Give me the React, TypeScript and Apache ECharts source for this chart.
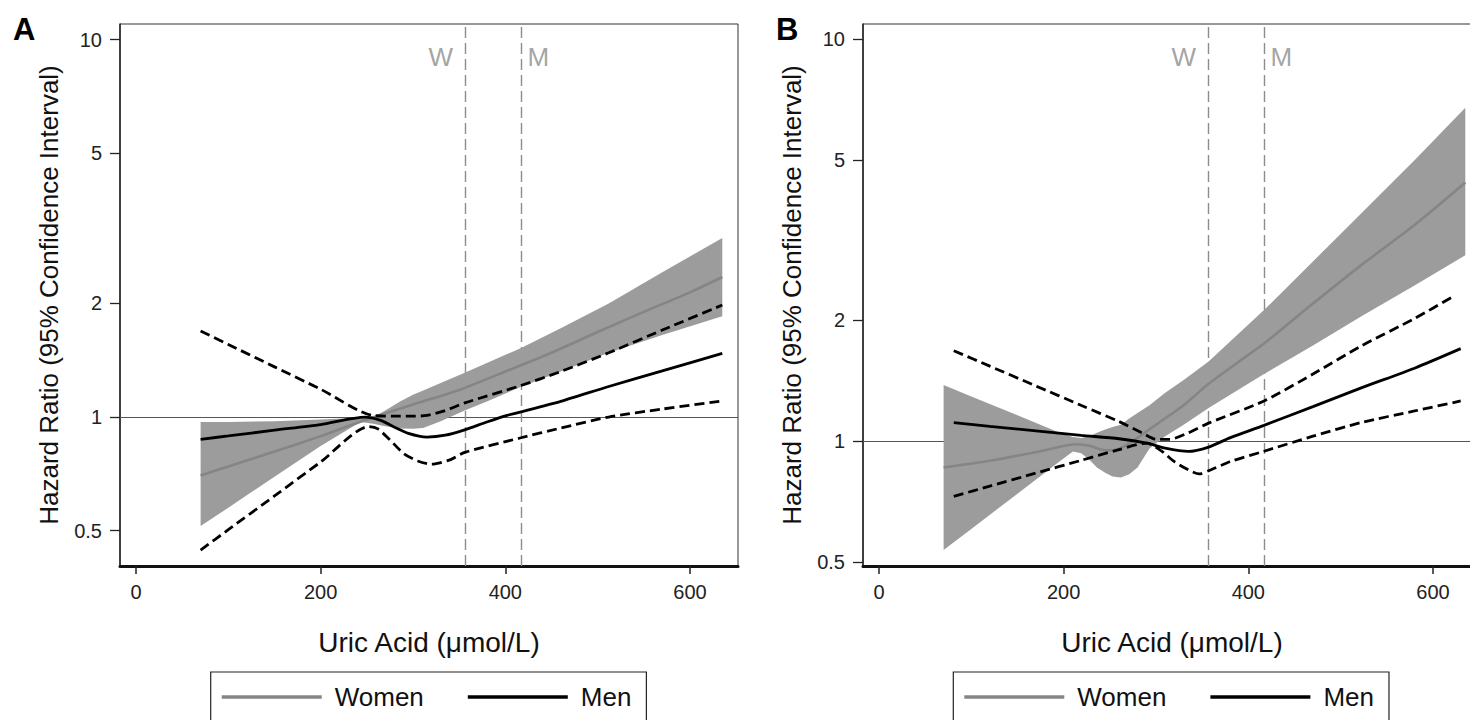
import React, { useEffect, useRef } from "react";
import * as echarts from "echarts";

const FONT = '"Liberation Sans", Arial, Helvetica, sans-serif';

const xTicks = [0, 200, 400, 600];
const yTicks = [0.5, 1, 2, 5, 10];
const cutoffWomen = 357;
const cutoffMen = 417;
const legendNames = ["Women", "Men"];
const xTitle = "Uric Acid (\u03bcmol/L)";
const yTitle = "Hazard Ratio (95% Confidence Interval)";

// ---------- Panel A ----------
const aBandX = [70, 100, 150, 200, 243, 257, 270, 286, 300, 311, 330, 356, 380, 416, 460, 512, 570, 635];
const aBandLo = [0.514, 0.575, 0.695, 0.838, 0.97, 0.96, 0.945, 0.932, 0.931, 0.935, 0.975, 1.04, 1.1, 1.2, 1.32, 1.48, 1.65, 1.85];
const aBandHi = [0.97, 0.97, 0.975, 0.985, 0.995, 1.0, 1.04, 1.1, 1.145, 1.175, 1.23, 1.31, 1.39, 1.52, 1.72, 2.0, 2.42, 2.98];

const aWomenX = [70, 100, 150, 200, 250, 300, 350, 400, 450, 500, 550, 600, 635];
const aWomenHR = [0.7, 0.74, 0.81, 0.89, 0.985, 1.08, 1.18, 1.32, 1.48, 1.68, 1.9, 2.14, 2.35];

const aMenX = [70, 100, 150, 200, 248, 265, 280, 295, 315, 335, 356, 380, 402, 416, 460, 512, 570, 635];
const aMenHR = [0.873, 0.891, 0.923, 0.955, 1.0, 0.98, 0.94, 0.905, 0.885, 0.895, 0.925, 0.97, 1.01, 1.03, 1.1, 1.205, 1.325, 1.475];

const aMenUpX = [70, 100, 150, 200, 256, 280, 300, 315, 335, 356, 416, 460, 512, 570, 635];
const aMenUpHR = [1.69, 1.557, 1.358, 1.185, 1.01, 1.005, 1.005, 1.01, 1.04, 1.09, 1.21, 1.32, 1.48, 1.7, 1.98];

const aMenLoX = [70, 100, 150, 200, 252, 262, 275, 290, 305, 320, 340, 356, 416, 460, 512, 570, 635];
const aMenLoHR = [0.444, 0.503, 0.618, 0.76, 0.943, 0.93, 0.87, 0.8, 0.765, 0.75, 0.77, 0.806, 0.88, 0.935, 1.0, 1.05, 1.103];

// ---------- Panel B ----------
const bBandX = [70, 100, 150, 193, 210, 219, 228, 236, 245, 253, 262, 271, 280, 293, 310, 330, 357, 417, 470, 523, 580, 635];
const bBandLo = [0.537, 0.606, 0.741, 0.882, 0.944, 0.934, 0.9, 0.861, 0.835, 0.818, 0.813, 0.828, 0.861, 0.96, 1.03, 1.1, 1.21, 1.47, 1.73, 2.05, 2.44, 2.9];
const bBandHi = [1.38, 1.293, 1.161, 1.057, 1.025, 1.02, 1.03, 1.05, 1.07, 1.085, 1.1, 1.14, 1.176, 1.23, 1.32, 1.42, 1.58, 2.12, 2.8, 3.7, 5.0, 6.75];

const bWomenX = [70, 120, 170, 214, 228, 240, 252, 265, 280, 300, 330, 357, 390, 417, 470, 523, 580, 635];
const bWomenHR = [0.861, 0.895, 0.94, 0.984, 0.975, 0.955, 0.95, 0.97, 1.02, 1.1, 1.23, 1.39, 1.58, 1.75, 2.2, 2.75, 3.45, 4.4];

const bMenX = [81, 120, 170, 219, 260, 290, 310, 335, 357, 380, 417, 470, 523, 580, 630];
const bMenHR = [1.113, 1.09, 1.062, 1.035, 1.015, 0.99, 0.962, 0.944, 0.968, 1.02, 1.096, 1.22, 1.36, 1.52, 1.7];

const bMenUpX = [81, 120, 170, 220, 260, 285, 300, 315, 335, 357, 417, 470, 523, 580, 623];
const bMenUpHR = [1.68, 1.538, 1.373, 1.226, 1.12, 1.05, 1.012, 1.012, 1.05, 1.11, 1.26, 1.47, 1.73, 2.02, 2.3];

const bMenLoX = [81, 120, 170, 219, 260, 290, 305, 320, 335, 347, 357, 380, 417, 470, 523, 580, 630];
const bMenLoHR = [0.73, 0.774, 0.834, 0.897, 0.954, 0.99, 0.95, 0.89, 0.85, 0.83, 0.845, 0.89, 0.945, 1.03, 1.115, 1.19, 1.26];

const pairs = (xs: number[], ys: number[]) => xs.map((x, i) => [x, ys[i]]);

interface PanelData {
  bandX: number[];
  bandLo: number[];
  bandHi: number[];
  womenX: number[];
  womenHR: number[];
  menX: number[];
  menHR: number[];
  menUpX: number[];
  menUpHR: number[];
  menLoX: number[];
  menLoHR: number[];
}

const panelA: PanelData = {
  bandX: aBandX, bandLo: aBandLo, bandHi: aBandHi,
  womenX: aWomenX, womenHR: aWomenHR,
  menX: aMenX, menHR: aMenHR,
  menUpX: aMenUpX, menUpHR: aMenUpHR,
  menLoX: aMenLoX, menLoHR: aMenLoHR,
};
const panelB: PanelData = {
  bandX: bBandX, bandLo: bBandLo, bandHi: bBandHi,
  womenX: bWomenX, womenHR: bWomenHR,
  menX: bMenX, menHR: bMenHR,
  menUpX: bMenUpX, menUpHR: bMenUpHR,
  menLoX: bMenLoX, menLoHR: bMenLoHR,
};

const BAND = "#9c9c9c";
const WOMEN = "#858585";
const CUTOFF = "#8c8c8c";

function panelSeries(p: number, d: PanelData): any[] {
  const bandData = d.bandX.map((x, i) => [x, d.bandLo[i], d.bandHi[i]]);
  const dashed = { color: "#000", width: 2.8, type: [10, 5] };
  return [
    {
      type: "scatter",
      name: "cutoffs" + p,
      xAxisIndex: p,
      yAxisIndex: p,
      z: 1,
      silent: true,
      symbolSize: 1,
      itemStyle: { color: "rgba(0,0,0,0)" },
      label: { show: true, fontSize: 26, color: CUTOFF, fontFamily: FONT },
      data: [
        { value: [cutoffWomen, 9], label: { formatter: "W", position: "left", distance: 12 } },
        { value: [cutoffMen, 9], label: { formatter: "M", position: "right", distance: 6 } },
      ],
      markLine: {
        z: 1,
        silent: true,
        symbol: ["none", "none"],
        label: { show: false },
        lineStyle: { color: CUTOFF, width: 1.4, type: [11, 5] },
        data: [
          { yAxis: 1, lineStyle: { color: "#555", width: 1.2, type: "solid" } },
          { xAxis: cutoffWomen },
          { xAxis: cutoffMen },
        ],
      },
    },
    {
      type: "custom",
      name: "Women 95% CI",
      xAxisIndex: p,
      yAxisIndex: p,
      z: 2,
      silent: true,
      data: bandData,
      encode: { x: 0, y: [1, 2] },
      renderItem: (params: any, api: any) => {
        if (params.dataIndex !== 0) return null;
        const pts: number[][] = [];
        for (let i = 0; i < bandData.length; i++) pts.push(api.coord([bandData[i][0], bandData[i][2]]));
        for (let i = bandData.length - 1; i >= 0; i--) pts.push(api.coord([bandData[i][0], bandData[i][1]]));
        return { type: "polygon", shape: { points: pts, smooth: 0 }, style: { fill: BAND } };
      },
    },
    {
      type: "line",
      name: "Women",
      xAxisIndex: p,
      yAxisIndex: p,
      z: 3,
      silent: true,
      symbol: "none",
      smooth: 0.25,
      data: pairs(d.womenX, d.womenHR),
      itemStyle: { color: WOMEN },
      lineStyle: { color: WOMEN, width: 2.6 },
    },
    {
      type: "line",
      name: "Men",
      xAxisIndex: p,
      yAxisIndex: p,
      z: 4,
      silent: true,
      symbol: "none",
      smooth: 0.25,
      data: pairs(d.menX, d.menHR),
      itemStyle: { color: "#000" },
      lineStyle: { color: "#000", width: 2.8 },
    },
    {
      type: "line",
      name: "Men 95% CI upper",
      xAxisIndex: p,
      yAxisIndex: p,
      z: 4,
      silent: true,
      symbol: "none",
      smooth: 0.25,
      data: pairs(d.menUpX, d.menUpHR),
      itemStyle: { color: "#000" },
      lineStyle: dashed,
    },
    {
      type: "line",
      name: "Men 95% CI lower",
      xAxisIndex: p,
      yAxisIndex: p,
      z: 4,
      silent: true,
      symbol: "none",
      smooth: 0.25,
      data: pairs(d.menLoX, d.menLoHR),
      itemStyle: { color: "#000" },
      lineStyle: dashed,
    },
  ];
}

const gridLefts = [120, 863];
const yRanges = [
  [0.403, 11.0],
  [0.49, 10.9],
];
const legendLefts = [210.7, 953.3];
const panelLetters = ["A", "B"];
const letterLefts = [13, 776];

function buildOption(): any {
  return {
    animation: false,
    backgroundColor: "#fff",
    textStyle: { fontFamily: FONT },
    grid: gridLefts.map((left) => ({
      left,
      top: 24,
      width: 618,
      height: 542,
      show: true,
      borderColor: "#333",
      borderWidth: 1,
      backgroundColor: "transparent",
    })),
    xAxis: [0, 1].map((i) => ({
      gridIndex: i,
      type: "value",
      min: -17.3,
      max: 652,
      axisLine: { show: true, onZero: false, lineStyle: { color: "#111", width: 3 } },
      axisTick: { show: true, length: 8, customValues: xTicks, lineStyle: { color: "#222", width: 1.5 } },
      axisLabel: { customValues: xTicks, fontSize: 20, color: "#222", margin: 16, fontFamily: FONT },
      splitLine: { show: false },
      name: xTitle,
      nameLocation: "middle",
      nameGap: 62,
      nameTextStyle: { fontSize: 28, color: "#111", fontFamily: FONT },
    })),
    yAxis: [0, 1].map((i) => ({
      gridIndex: i,
      type: "log",
      logBase: 10,
      min: yRanges[i][0],
      max: yRanges[i][1],
      axisLine: { show: true, onZero: false, lineStyle: { color: "#222", width: 1.5 } },
      axisTick: { show: true, length: 10, customValues: yTicks, lineStyle: { color: "#222", width: 1.3 } },
      axisLabel: { customValues: yTicks, fontSize: 20, color: "#222", margin: 18, fontFamily: FONT },
      minorTick: { show: false },
      splitLine: { show: false },
      name: yTitle,
      nameLocation: "middle",
      nameRotate: 90,
      nameGap: 58,
      nameTextStyle: { fontSize: 26, color: "#111", fontFamily: FONT },
    })),
    legend: legendLefts.map((left) => ({
      data: legendNames,
      left,
      top: 672,
      orient: "horizontal",
      icon: "rect",
      itemWidth: 100,
      itemHeight: 3.5,
      itemGap: 44,
      padding: [12, 15, 12, 11],
      borderColor: "#222",
      borderWidth: 1.2,
      selectedMode: false,
      textStyle: { fontSize: 26, color: "#111", fontFamily: FONT, padding: [0, 0, 0, 8] },
    })),
    graphic: panelLetters.map((t, i) => ({
      type: "text",
      left: letterLefts[i],
      top: 14,
      style: { text: t, font: "bold 31px " + FONT, fill: "#000" },
    })),
    series: [...panelSeries(0, panelA), ...panelSeries(1, panelB)],
  };
}

export default function App() {
  const ref = useRef<HTMLDivElement>(null);
  useEffect(() => {
    if (!ref.current) return;
    const chart = echarts.init(ref.current, null, { renderer: "svg" });
    chart.setOption(buildOption());
    return () => chart.dispose();
  }, []);
  return (
    <div style={{ position: "absolute", left: 0, top: 0, width: 1470, height: 720, overflow: "hidden", background: "#fff" }}>
      <div ref={ref} style={{ width: 1500, height: 720 }} />
    </div>
  );
}
